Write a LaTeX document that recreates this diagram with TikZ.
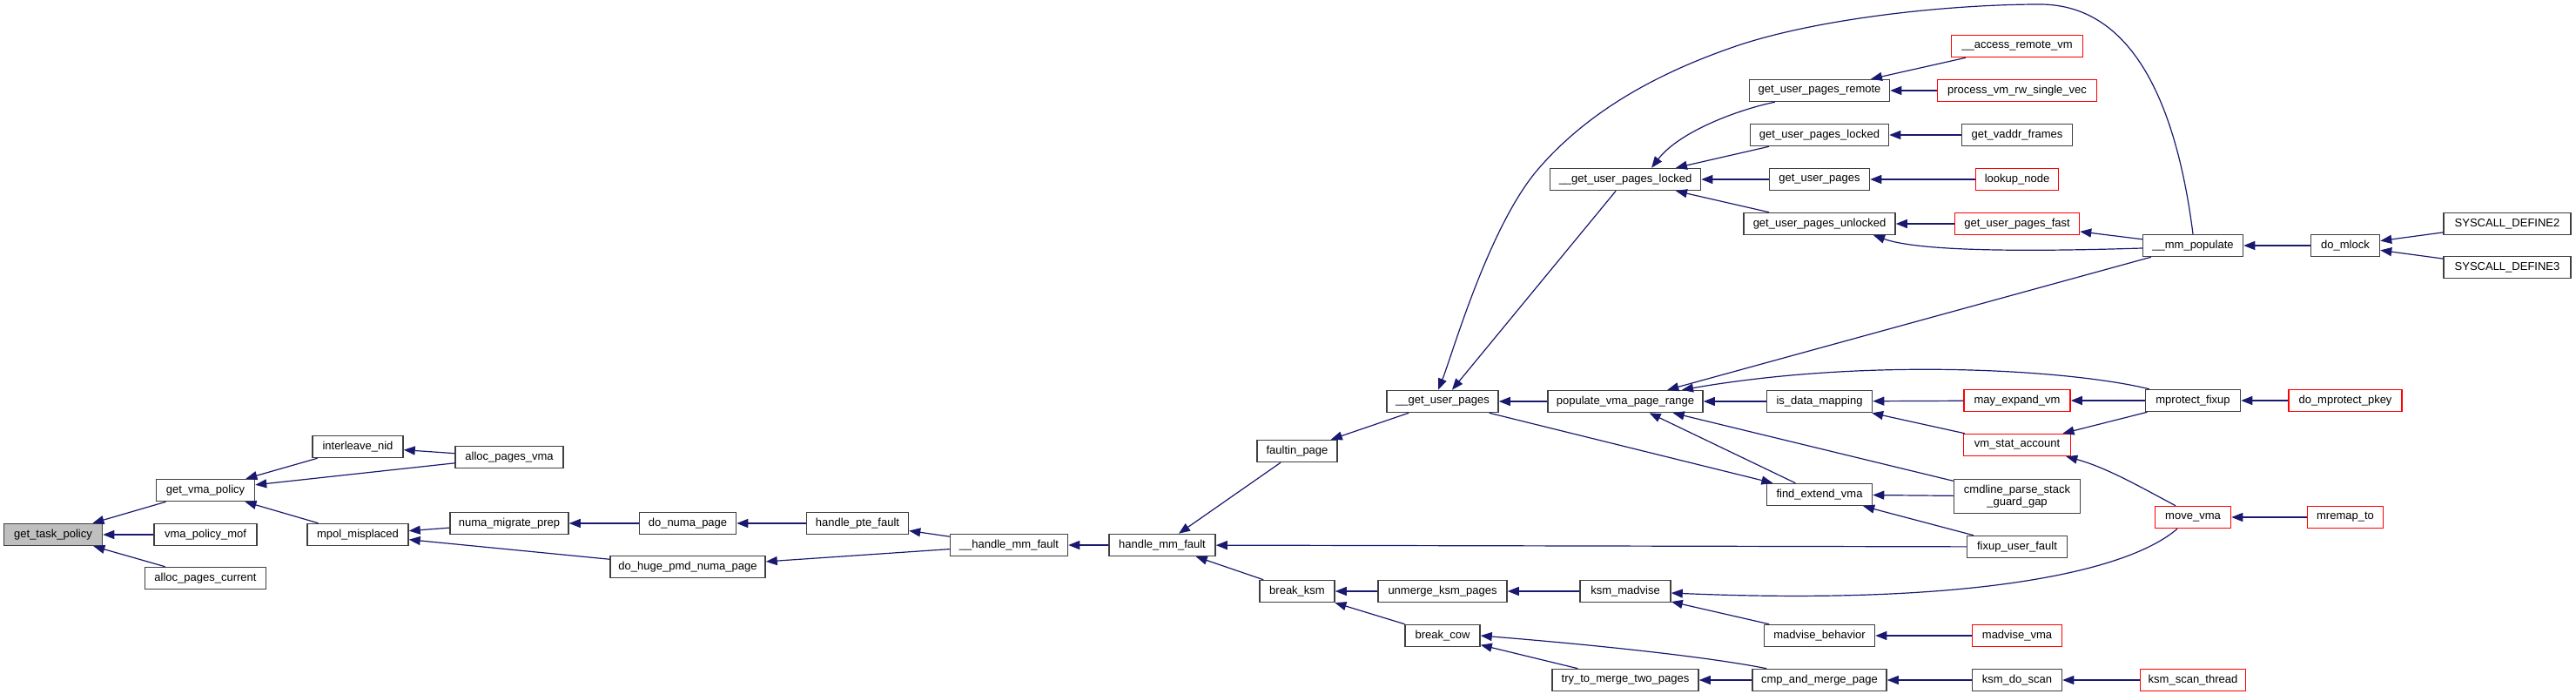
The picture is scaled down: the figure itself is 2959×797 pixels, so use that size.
\documentclass[tikz,border=0pt]{standalone}
\usepackage{fontspec}
\setmainfont{Liberation Sans}
\usetikzlibrary{arrows.meta}
\definecolor{edgeblue}{HTML}{191970}
\definecolor{boxline}{HTML}{404040}
\definecolor{trunc}{HTML}{FF0000}
\definecolor{selfgray}{HTML}{BFBFBF}
\begin{document}
\begin{tikzpicture}[x=1pt, y=-1pt, font=\fontsize{13}{14}\selectfont,
	fn/.style={draw=boxline, line width=1.5pt, fill=white, minimum height=25, inner xsep=2pt, inner ysep=0pt},
	cut/.style={fn, draw=trunc},
	call/.style={draw=edgeblue, line width=1.2pt, -{Triangle[length=13pt,width=10pt]}}]
	\useasboundingbox (0,0) rectangle (2959,797);
	\node[fn, fill=selfgray, minimum width=113] (taskpol) at (61,614) {get\_task\_policy};
	\node[fn, minimum width=113] (vmapol) at (236,563) {get\_vma\_policy};
	\node[fn, minimum width=118] (mof) at (236,614) {vma\_policy\_mof};
	\node[fn, minimum width=139] (apcur) at (236,664) {alloc\_pages\_current};
	\node[fn, minimum width=104] (inid) at (411,513) {interleave\_nid};
	\node[fn, minimum width=116] (misplaced) at (411,614) {mpol\_misplaced};
	\node[fn, minimum width=124] (apvma) at (585,525) {alloc\_pages\_vma};
	\node[fn, minimum width=136] (mprep) at (585,601) {numa\_migrate\_prep};
	\node[fn, minimum width=111] (donuma) at (790,601) {do\_numa\_page};
	\node[fn, minimum width=178] (hugepmd) at (790,651) {do\_huge\_pmd\_numa\_page};
	\node[fn, minimum width=117] (ptefault) at (985,601) {handle\_pte\_fault};
	\node[fn, minimum width=135] (hmmfault) at (1159,626) {\_\_handle\_mm\_fault};
	\node[fn, minimum width=122] (mmfault) at (1335,626) {handle\_mm\_fault};
	\node[fn, minimum width=92] (faultin) at (1490,518) {faultin\_page};
	\node[fn, minimum width=86] (breakksm) at (1490,679) {break\_ksm};
	\node[fn, minimum width=128] (gup) at (1657,461) {\_\_get\_user\_pages};
	\node[fn, minimum width=148] (unmerge) at (1657,679) {unmerge\_ksm\_pages};
	\node[fn, minimum width=86] (breakcow) at (1657,730) {break\_cow};
	\node[fn, minimum width=173] (guplocked) at (1867,206) {\_\_get\_user\_pages\_locked};
	\node[fn, minimum width=178] (populate) at (1867,461) {populate\_vma\_page\_range};
	\node[fn, minimum width=104] (ksmmadv) at (1867,679) {ksm\_madvise};
	\node[fn, minimum width=168] (trymerge) at (1867,781) {try\_to\_merge\_two\_pages};
	\node[fn, minimum width=161] (gupremote) at (2090,104) {get\_user\_pages\_remote};
	\node[fn, minimum width=159] (guplk) at (2090,155) {get\_user\_pages\_locked};
	\node[fn, minimum width=115] (gupages) at (2090,206) {get\_user\_pages};
	\node[fn, minimum width=174] (gupunl) at (2090,257) {get\_user\_pages\_unlocked};
	\node[fn, minimum width=121] (isdata) at (2090,461) {is\_data\_mapping};
	\node[fn, minimum width=121] (findext) at (2090,568) {find\_extend\_vma};
	\node[fn, minimum width=127] (madvbeh) at (2090,730) {madvise\_behavior};
	\node[fn, minimum width=154] (cmpmerge) at (2090,781) {cmp\_and\_merge\_page};
	\node[cut, minimum width=151] (accremote) at (2317,53) {\_\_access\_remote\_vm};
	\node[cut, minimum width=183] (procvm) at (2317,104) {process\_vm\_rw\_single\_vec};
	\node[fn, minimum width=127] (vaddr) at (2317,155) {get\_vaddr\_frames};
	\node[cut, minimum width=95] (lookup) at (2317,206) {lookup\_node};
	\node[cut, minimum width=143] (gupfast) at (2317,257) {get\_user\_pages\_fast};
	\node[cut, minimum width=122] (mayexp) at (2317,460) {may\_expand\_vm};
	\node[cut, minimum width=123] (vmstat) at (2317,511) {vm\_stat\_account};
	\node[fn, minimum width=145, minimum height=39, align=center] (cmdline) at (2317,570) {cmdline\_parse\_stack\\\_guard\_gap};
	\node[fn, minimum width=115] (fixup) at (2317,628) {fixup\_user\_fault};
	\node[cut, minimum width=103] (madvvma) at (2317,730) {madvise\_vma};
	\node[fn, minimum width=103] (ksmscan) at (2317,781) {ksm\_do\_scan};
	\node[fn, minimum width=115] (mmpop) at (2519,282) {\_\_mm\_populate};
	\node[fn, minimum width=109] (mprotfix) at (2519,460) {mprotect\_fixup};
	\node[cut, minimum width=87] (movevma) at (2519,594) {move\_vma};
	\node[cut, minimum width=121] (ksmthread) at (2519,781) {ksm\_scan\_thread};
	\node[fn, minimum width=79] (domlock) at (2694,282) {do\_mlock};
	\node[cut, minimum width=130] (mprotpkey) at (2694,460) {do\_mprotect\_pkey};
	\node[cut, minimum width=87] (mremap) at (2694,594) {mremap\_to};
	\node[fn, minimum width=146] (sys2) at (2880,257) {SYSCALL\_DEFINE2};
	\node[fn, minimum width=146] (sys3) at (2880,307) {SYSCALL\_DEFINE3};
	\foreach \a/\b in {vmapol/taskpol, mof/taskpol, apcur/taskpol, inid/vmapol, apvma/vmapol, misplaced/vmapol,
		apvma/inid, mprep/misplaced, hugepmd/misplaced, donuma/mprep, ptefault/donuma, hmmfault/ptefault,
		hmmfault/hugepmd, mmfault/hmmfault, faultin/mmfault, breakksm/mmfault, fixup/mmfault, gup/faultin,
		guplocked/gup, populate/gup, gup/findext, guplk/guplocked, gupages/guplocked, gupunl/guplocked,
		accremote/gupremote, procvm/gupremote, vaddr/guplk, lookup/gupages, gupfast/gupunl, mmpop/gupfast,
		mmpop/populate, isdata/populate, findext/populate, cmdline/populate, mayexp/isdata, vmstat/isdata,
		mprotfix/mayexp, mprotfix/vmstat, cmdline/findext, fixup/findext, mprotpkey/mprotfix, domlock/mmpop,
		sys2/domlock, sys3/domlock, mremap/movevma, unmerge/breakksm, breakcow/breakksm, ksmmadv/unmerge,
		madvbeh/ksmmadv, madvvma/madvbeh, trymerge/breakcow, cmpmerge/trymerge, ksmscan/cmpmerge, ksmthread/ksmscan}
		\draw[call] (\a) -- (\b);
	\draw[call] (mmpop.north) .. controls (2500,120) and (2450,5) .. (2343,5) .. controls (2243,5) and (2096,20) .. (2000,51)
		.. controls (1904,83) and (1824,128) .. (1767,194) .. controls (1710,260) and (1668,408) .. ([xshift=-5pt]gup.north);
	\draw[call] ([xshift=30pt]gupremote.south west) .. controls (2000,125) and (1930,150) .. ([xshift=30pt]guplocked.north);
	\draw[call] ([yshift=-3pt]mmpop.west) .. controls (2300,290) and (2200,287) .. ([xshift=62pt]gupunl.south);
	\draw[call] ([xshift=5pt]mprotfix.north west) .. controls (2380,425) and (2150,410) .. ([xshift=65pt]populate.north);
	\draw[call] ([xshift=-20pt]movevma.north) .. controls (2460,560) and (2420,537) .. ([xshift=-6pt]vmstat.south east);
	\draw[call] ([xshift=-18pt]movevma.south) .. controls (2440,660) and (2250,695) .. ([yshift=-2pt]ksmmadv.east);
	\draw[call] ([xshift=17pt]cmpmerge.north west) .. controls (1950,752) and (1800,738) .. (breakcow.east);
\end{tikzpicture}
\end{document}
